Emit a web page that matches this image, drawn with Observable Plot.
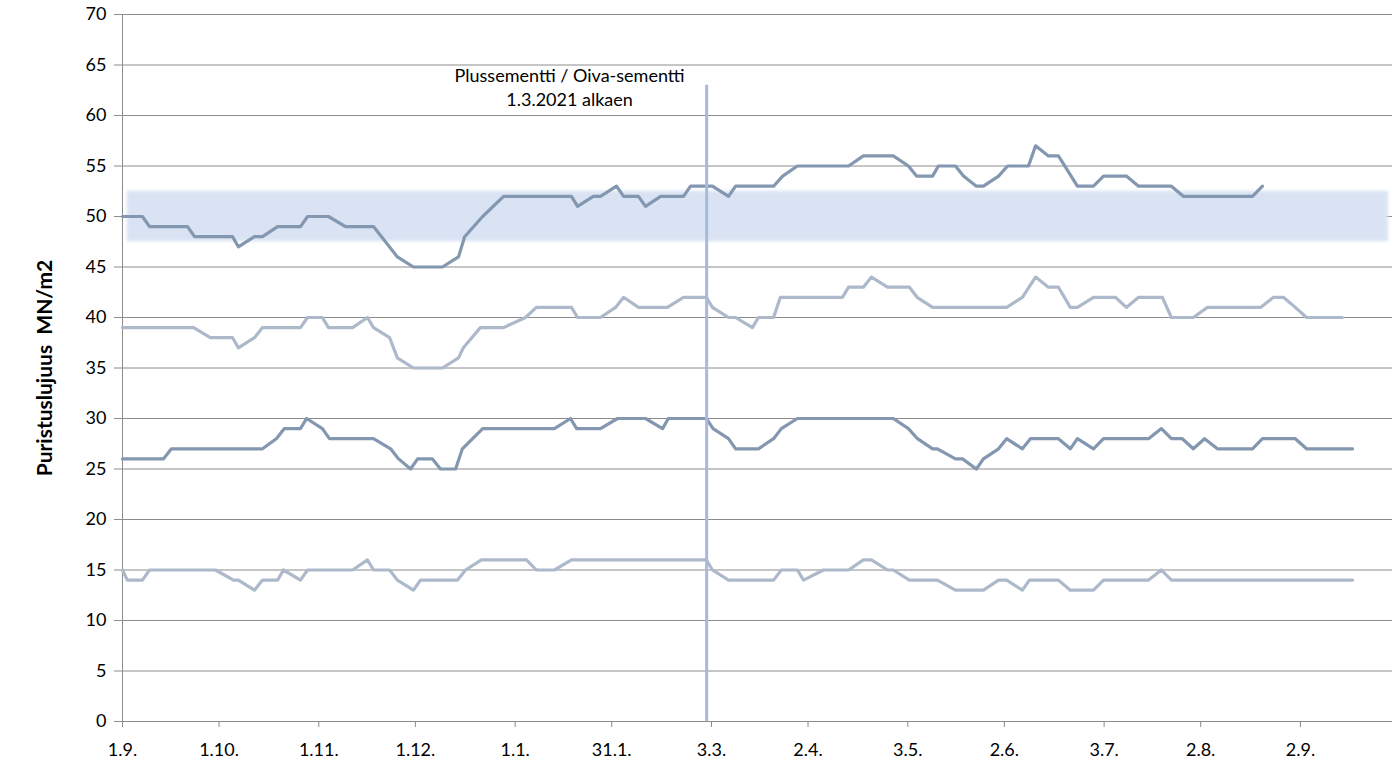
<!DOCTYPE html>
<html><head><meta charset="utf-8">
<script src="https://cdn.jsdelivr.net/npm/d3@7"></script>
<script src="https://cdn.jsdelivr.net/npm/@observablehq/plot@0.6"></script>
<style>
body{margin:0;background:#fff;}
#chart svg{display:block;}
</style>
</head><body><div id="chart"></div>
<script>
// x positions are days counted from 1.9.2020
const tickDays = [0,30,61,91,122,152,183,213,244,274,305,335,366];
const tickLabels = ["1.9.","1.10.","1.11.","1.12.","1.1.","31.1.","3.3.","2.4.","3.5.","2.6.","3.7.","2.8.","2.9."];
const yTicks = [0,5,10,15,20,25,30,35,40,45,50,55,60,65,70];

const topDays = [0,6.2,8.4,20.2,22.4,34.2,36,41,43.5,48.2,55.3,57.5,64,69.3,78,85.4,90.4,99.4,104.4,106.3,111.9,118.4,139.5,141.4,146.3,148.5,153.5,155.7,160.3,162.5,167.2,174.3,176.5,183.3,188.3,190.5,202.3,205.1,209.7,225.6,230.2,239.5,244.2,246.7,251.7,253.5,258.8,261.3,265.3,267.5,272.2,275,281.5,283.7,287.7,290.8,296.7,301.7,304.8,311.9,315.7,325.9,329.6,351.1,354.2];
const topVals = [50,50,49,49,48,48,47,48,48,49,49,50,50,49,49,46,45,45,46,48,50,52,52,51,52,52,53,52,52,51,52,52,53,53,52,53,53,54,55,55,56,56,55,54,54,55,55,54,53,53,54,55,55,57,56,56,53,53,54,54,53,53,52,52,53];

const secondDays = [0,22.1,27.3,34.2,36,41,43.5,55.3,57.5,62.1,64,71.5,76.1,78,83,85.4,90.4,99.4,104.4,105.9,111.2,118.4,125.2,128.6,139.5,141.4,148.5,153.2,155.7,160.3,169.3,174.3,181.4,183.3,188.3,190.5,195.7,197.6,202.3,204.4,223.7,225.6,230.2,232.7,237.7,244.5,246.9,251.7,274.7,279.6,283.7,287.7,290.8,294.5,296.7,301.7,308.5,311.9,315.7,323.1,325.9,332.7,337.1,353.6,357.6,360.7,364.4,367.9,379];
const secondVals = [39,39,38,38,37,38,39,39,40,40,39,39,40,39,38,36,35,35,36,37,39,39,40,41,41,40,40,41,42,41,41,42,42,41,40,40,39,40,40,42,42,43,43,44,43,43,42,41,41,42,44,43,43,41,41,42,42,41,42,42,40,40,41,41,42,42,41,40,40];

const thirdDays = [0,12.7,15.2,43.5,47.8,50.3,55.3,57.2,62.1,64.3,78,83.3,85.8,89.5,91.7,96.3,98.8,103.5,105.6,111.9,134.2,139.2,141.1,148.5,153.8,162.5,167.8,169.6,181.4,183.5,188.3,190.5,197.6,202.3,204.7,209.7,239.5,244.2,247,251.7,253.2,258.8,261,265.3,267.5,272.2,274.7,279.6,282.1,290.8,294.5,296.7,301.7,304.8,318.8,322.8,325.9,329.3,332.7,336.2,340.2,351.1,354.2,364.4,367.9,382.2];
const thirdVals = [26,26,27,27,28,29,29,30,29,28,28,27,26,25,26,26,25,25,27,29,29,30,29,29,30,30,29,30,30,29,28,27,27,28,29,30,30,29,28,27,27,26,26,25,26,27,28,27,28,28,27,28,27,28,28,29,28,28,27,28,27,27,28,28,27,27];

const bottomDays = [0,1.5,6.2,8.4,28.9,34.5,36,41,43.5,48.2,50,55.3,57.5,71.5,76.1,78,83,85.4,90.4,92.6,104.1,106.6,111.5,125.5,128.6,134.2,139.5,181.4,183.3,188.3,202.3,204.7,209.7,211.6,217.8,225.6,230.2,232.7,237.7,239.5,244.5,253.2,258.8,267.5,272.2,274.7,279.6,281.8,290.8,294.5,301.7,304.8,318.8,322.8,325.9,382.2];
const bottomVals = [15,14,14,15,15,14,14,13,14,14,15,14,15,15,16,15,15,14,13,14,14,15,16,16,15,15,16,16,15,14,14,15,15,14,15,15,16,16,15,15,14,14,13,13,14,14,13,14,14,13,13,14,14,15,14,14];

const changeDay = 181.5;     // 1.3.2021
const changeTop = 63;
const bandLow = 47.5, bandHigh = 52.5, bandStart = 1.5, bandEnd = 393.3;
const noteText = "Plussementti / Oiva-sementti\n1.3.2021 alkaen";
const yLabel = "Puristuslujuus\u00a0 MN/m2";

const dark = "#8497B0", light = "#ADB9CA";
const toRows = (days, vals) => days.map((d, i) => ({day: d, v: vals[i]}));

const chart = Plot.plot({
  width: 1394, height: 769,
  marginLeft: 122, marginRight: 2, marginTop: 14, marginBottom: 48,
  style: {fontFamily: "Lato, 'Liberation Sans', sans-serif", fontSize: "18px", color: "#000", background: "#fff"},
  x: {domain: [0, 394.6], nice: false},
  y: {domain: [0, 70], nice: false},
  marks: [
    Plot.ruleY(yTicks, {stroke: "#8c8c8c", strokeWidth: 1, strokeOpacity: 1}),
    Plot.rect([0], {x1: () => bandStart, x2: () => bandEnd, y1: () => bandLow, y2: () => bandHigh, fill: "#DAE3F3", imageFilter: "blur(1.5px)"}),
    Plot.ruleX([0], {stroke: "#8c8c8c", strokeWidth: 1}),
    Plot.axisY({ticks: yTicks, tickSize: 8, tickPadding: 8, stroke: "#8c8c8c", strokeOpacity: 1, fill: "#000", label: null}),
    Plot.axisX({ticks: tickDays, tickFormat: (d, i) => tickLabels[tickDays.indexOf(d)], tickSize: 6, tickPadding: 16,
      stroke: "#8c8c8c", strokeOpacity: 1, fill: "#000", label: null}),
    Plot.text([yLabel], {frameAnchor: "left", dx: -77, rotate: -90, text: d => d, fontSize: 21, fontWeight: "bold", fill: "#000", textAnchor: "middle"}),
    Plot.line(toRows(bottomDays, bottomVals), {x: "day", y: "v", stroke: light, strokeWidth: 3.2, strokeLinejoin: "round"}),
    Plot.line(toRows(thirdDays, thirdVals), {x: "day", y: "v", stroke: dark, strokeWidth: 3.2, strokeLinejoin: "round"}),
    Plot.line(toRows(secondDays, secondVals), {x: "day", y: "v", stroke: light, strokeWidth: 3.2, strokeLinejoin: "round"}),
    Plot.line(toRows(topDays, topVals), {x: "day", y: "v", stroke: dark, strokeWidth: 3.2, strokeLinejoin: "round"}),
    Plot.ruleX([changeDay], {y1: 0, y2: changeTop, stroke: "#A9B9DE", strokeWidth: 3}),
    Plot.text([noteText], {x: () => 138.9, y: () => 62.9, text: d => d, fontSize: 18, lineHeight: 1.33, fill: "#000", textAnchor: "middle"})
  ]
});
document.getElementById("chart").append(chart);
</script>
</body></html>
